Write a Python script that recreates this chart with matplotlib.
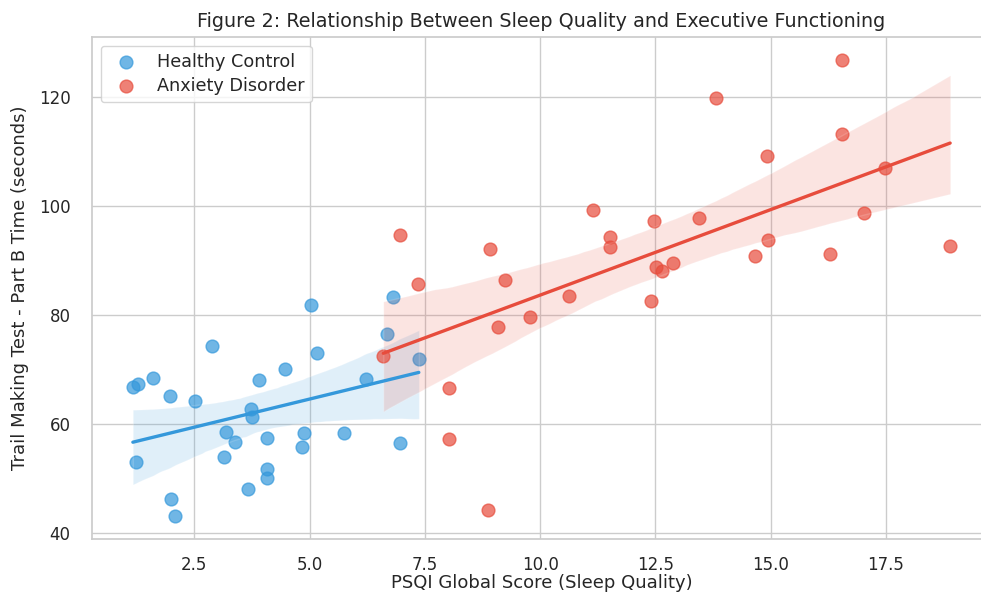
import matplotlib
matplotlib.use('Agg')
import matplotlib.pyplot as plt
import numpy as np
import seaborn as sns

# PSQI score vs TMT-B time
hc_psqi = [1.17, 1.28, 1.60, 1.97, 1.24, 2.00, 2.08, 2.52, 2.88, 3.18,
           3.38, 3.15, 3.66, 3.74, 3.76, 3.91, 4.47, 4.08, 4.08, 4.08,
           4.89, 4.84, 5.04, 5.17, 5.75, 6.22, 6.67, 6.80, 6.97, 7.37]
hc_tmtb = [66.9, 67.4, 68.5, 65.1, 53.1, 46.2, 43.1, 64.2, 74.3, 58.5,
           56.7, 54.0, 48.0, 62.8, 61.4, 68.1, 70.1, 57.5, 51.8, 50.2,
           58.3, 55.8, 81.9, 73.1, 58.3, 68.2, 76.5, 83.3, 56.6, 71.9]

ad_psqi = [6.60, 6.97, 7.35, 8.03, 8.03, 8.86, 8.91, 9.09, 9.24, 9.77,
           10.62, 11.15, 11.51, 11.51, 12.41, 12.46, 12.52, 12.64, 12.88, 13.44,
           13.82, 14.66, 14.92, 14.95, 16.28, 16.55, 16.55, 17.03, 17.48, 18.89]
ad_tmtb = [72.5, 94.8, 85.7, 66.7, 57.3, 44.2, 92.2, 77.9, 86.5, 79.7,
           83.6, 99.3, 94.3, 92.6, 82.7, 97.3, 88.8, 88.2, 89.5, 97.8,
           119.8, 90.8, 109.2, 93.9, 91.3, 126.9, 113.2, 98.7, 107.1, 92.8]

sns.set_theme(style='whitegrid')
plt.rcParams.update({'axes.titlesize': 13.8, 'axes.labelsize': 13.5,
                     'xtick.labelsize': 12, 'ytick.labelsize': 12,
                     'legend.fontsize': 12.7})

fig = plt.figure(figsize=(9.81, 5.93), dpi=100)
# the original figure is clipped on the right, so the axes run past the edge
ax = fig.add_axes([92 / 981, 54 / 593, 899 / 981, 502 / 593])

sns.regplot(x=np.array(hc_psqi), y=np.array(hc_tmtb), ax=ax, color='#3498db',
            label='Healthy Control', seed=3,
            scatter_kws={'s': 85, 'alpha': 0.7}, line_kws={'linewidth': 2.4})
sns.regplot(x=np.array(ad_psqi), y=np.array(ad_tmtb), ax=ax, color='#e74c3c',
            label='Anxiety Disorder', seed=3,
            scatter_kws={'s': 85, 'alpha': 0.7}, line_kws={'linewidth': 2.4})

ax.set_title('Figure 2: Relationship Between Sleep Quality and Executive Functioning', pad=7)
ax.set_xlabel('PSQI Global Score (Sleep Quality)', fontsize=13, labelpad=0)
ax.set_ylabel('Trail Making Test - Part B Time (seconds)', fontsize=13, labelpad=7)
ax.tick_params(axis='x', pad=6)
ax.tick_params(axis='y', pad=9.5)
ax.legend(loc='upper left', labelspacing=0.35)

fig.savefig('out.png', dpi=100)
